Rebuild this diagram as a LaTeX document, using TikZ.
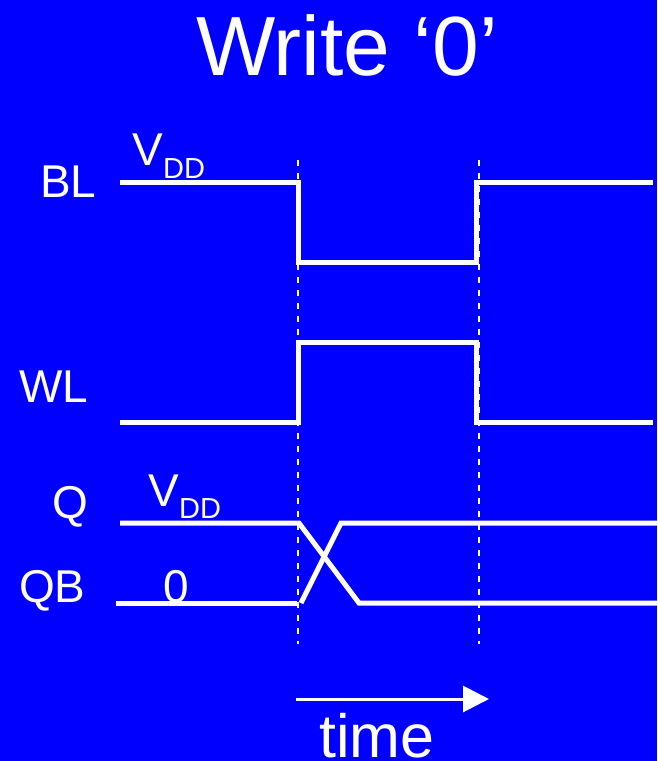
\documentclass[tikz,border=0pt]{standalone}
\usepackage{fontspec}
\setmainfont{Liberation Sans}
\usetikzlibrary{arrows.meta}
\definecolor{bgblue}{RGB}{0,0,255}
\tikzset{
  wave/.style={draw=white, line width=5pt, line join=miter},
  guide/.style={draw=white, line width=1.8pt, dash pattern=on 6pt off 7pt},
  lbl/.style={text=white, inner sep=0pt, anchor=base west, font=\fontsize{46}{50}\selectfont},
  sub/.style={text=white, inner sep=0pt, anchor=base west, font=\fontsize{29}{32}\selectfont},
}
\begin{document}
\begin{tikzpicture}[x=1pt,y=-1pt]
\fill[bgblue] (0,0) rectangle (657,761);
\useasboundingbox (0,0) rectangle (657,761);
% title
\node[text=white, inner sep=0pt, anchor=base, font=\fontsize{84}{90}\selectfont] (title) at (347,75) {Write ‘0’};
% labels
\node[lbl] (bl) at (40,197) {BL};
\node[lbl] (wl) at (19,402) {WL};
\node[lbl] (q) at (52,518) {Q};
\node[lbl] (qb) at (19,602) {QB};
\node[lbl] (v1) at (132,165) {V};
\node[sub] (d1) at (163,178) {DD};
\node[lbl] (v2) at (148,506) {V};
\node[sub] (d2) at (179,518) {DD};
\node[lbl] (zero) at (163,602) {0};
% guides
\coordinate (g1t) at (298,160); \coordinate (g1b) at (298,644);
\coordinate (g2t) at (479,160); \coordinate (g2b) at (479,644);
\draw[guide] (g1t) -- (g1b);
\draw[guide] (g2t) -- (g2b);
% BL
\coordinate (bl0) at (120,182); \coordinate (bl1) at (298,182);
\coordinate (bl2) at (298,262); \coordinate (bl3) at (476,262);
\coordinate (bl4) at (476,182); \coordinate (bl5) at (653,182);
\draw[wave] (bl0) -- (bl1) -- (bl2) -- (bl3) -- (bl4) -- (bl5);
% WL
\coordinate (wl0) at (120,422); \coordinate (wl1) at (298,422);
\coordinate (wl2) at (298,342); \coordinate (wl3) at (476,342);
\coordinate (wl4) at (476,422); \coordinate (wl5) at (653,422);
\draw[wave] (wl0) -- (wl1) -- (wl2) -- (wl3) -- (wl4) -- (wl5);
% Q
\coordinate (q0) at (120,523); \coordinate (q1) at (299,523);
\coordinate (q2) at (359,603); \coordinate (q3) at (657,603);
\draw[wave] (q0) -- (q1) -- (q2) -- (q3);
% QB
\coordinate (qb0) at (116,603); \coordinate (qb1) at (297,603);
\coordinate (qb2) at (301,603); \coordinate (qb3) at (341,523);
\coordinate (qb4) at (657,523);
\draw[wave] (qb0) -- (qb1);
\draw[wave] (qb2) -- (qb3) -- (qb4);
% time arrow
\coordinate (t0) at (296,699); \coordinate (t1) at (489,699);
\draw[white, line width=3pt, -{Triangle[length=26pt,width=26pt]}] (t0) -- (t1);
\node[text=white, inner sep=0pt, text depth=0pt, anchor=base west, font=\fontsize{61}{66}\selectfont] (time) at (319,757) {time};
\end{tikzpicture}
\end{document}
